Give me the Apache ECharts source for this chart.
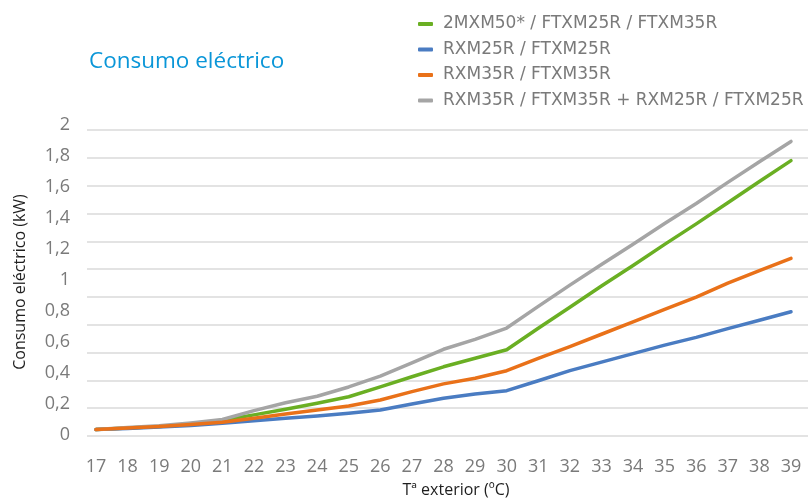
<!DOCTYPE html>
<html>
<head>
<meta charset="utf-8">
<script src="https://cdn.jsdelivr.net/npm/echarts@6/dist/echarts.min.js"></script>
<style>html,body{margin:0;padding:0;background:#fff}#c{width:809px;height:501px}</style>
</head>
<body>
<div id="c"></div>
<script>
var categories = ['17','18','19','20','21','22','23','24','25','26','27','28','29','30','31','32','33','34','35','36','37','38','39'];
var seriesNames = ['2MXM50* / FTXM25R / FTXM35R','RXM25R / FTXM25R','RXM35R / FTXM35R','RXM35R / FTXM35R + RXM25R / FTXM25R'];
var green = [0.035,0.045,0.055,0.071,0.095,0.13,0.166,0.205,0.247,0.31,0.376,0.44,0.495,0.55,0.689,0.824,0.961,1.094,1.23,1.362,1.498,1.635,1.77];
var blue = [0.035,0.042,0.052,0.061,0.075,0.092,0.108,0.123,0.14,0.161,0.2,0.237,0.265,0.286,0.35,0.415,0.47,0.525,0.58,0.63,0.686,0.74,0.795];
var orange = [0.035,0.045,0.055,0.068,0.082,0.108,0.135,0.161,0.187,0.226,0.28,0.33,0.366,0.415,0.495,0.57,0.65,0.73,0.81,0.89,0.98,1.06,1.14];
var gray = [0.035,0.048,0.06,0.078,0.10,0.157,0.208,0.25,0.31,0.38,0.466,0.553,0.617,0.69,0.83,0.967,1.10,1.23,1.365,1.494,1.63,1.763,1.894];
var yTickMin = 0, yTickMax = 2, yTickStep = 0.2;
var gridLineMax = 2.2;
var titleText = 'Consumo eléctrico';
var yName = 'Consumo eléctrico (kW)';
var xName = 'Tª exterior (ºC)';

var FONT = 'Open Sans';
var chart = echarts.init(document.getElementById('c'), null, {renderer: 'canvas'});
function mk(name, data, color, z) {
  return {
    name: name, type: 'line', data: data, xAxisIndex: 0, yAxisIndex: 0,
    showSymbol: false, symbol: 'none', smooth: false, z: z,
    lineStyle: {width: 3.5, color: color, cap: 'round', join: 'round'},
    itemStyle: {color: color}
  };
}
chart.setOption({
  animation: false,
  backgroundColor: '#fff',
  title: {
    text: titleText, left: 84, top: 45,
    textStyle: {fontFamily: FONT, fontSize: 22.5, fontWeight: 'normal', color: '#0a96d8'}
  },
  legend: {
    orient: 'vertical', left: 413, top: 9, itemGap: 5.5,
    icon: 'roundRect', itemWidth: 15, itemHeight: 4,
    data: seriesNames,
    textStyle: {fontFamily: 'DejaVu Sans', fontSize: 17, color: '#7a7a7a', lineHeight: 20, padding: [0,0,0,5]}
  },
  grid: [
    {left: 96, right: 18, top: 125, bottom: 66, containLabel: false},
    {left: 87, right: 1, top: 130, bottom: 65, containLabel: false}
  ],
  xAxis: [
    {type: 'category', gridIndex: 0, data: categories, boundaryGap: false,
     axisLine: {show: false}, axisTick: {show: false}, splitLine: {show: false},
     axisLabel: {fontFamily: FONT, fontSize: 18, color: '#7a7a7a', margin: 23, interval: 0}},
    {type: 'value', gridIndex: 1, min: 0, max: 1, show: false}
  ],
  yAxis: [
    {type: 'value', gridIndex: 0, min: yTickMin, max: yTickMax, interval: yTickStep,
     axisLine: {show: false}, axisTick: {show: false}, splitLine: {show: false},
     axisLabel: {fontFamily: FONT, fontSize: 18, color: '#7a7a7a', margin: 26,
       formatter: function (v) { return String(+v.toFixed(1)).replace('.', ','); }}},
    {type: 'value', gridIndex: 1, min: 0, max: gridLineMax, interval: yTickStep,
     axisLine: {show: false}, axisTick: {show: false}, axisLabel: {show: false},
     splitLine: {show: true, lineStyle: {color: '#e3e3e3', width: 2}}}
  ],
  graphic: [
    {type: 'text', x: 20, y: 282, rotation: Math.PI / 2,
     style: {text: yName, font: '16px "Open Sans"', fill: '#1e1e1e', textAlign: 'center', textVerticalAlign: 'middle'}},
    {type: 'text', x: 456, y: 490,
     style: {text: xName, font: '16px "Open Sans"', fill: '#1e1e1e', textAlign: 'center', textVerticalAlign: 'middle'}}
  ],
  series: [
    mk(seriesNames[0], green, '#6aaf23', 2),
    mk(seriesNames[1], blue, '#4a7cc2', 2),
    mk(seriesNames[2], orange, '#e97119', 4),
    mk(seriesNames[3], gray, '#a5a5a5', 3)
  ]
});
</script>
</body>
</html>
